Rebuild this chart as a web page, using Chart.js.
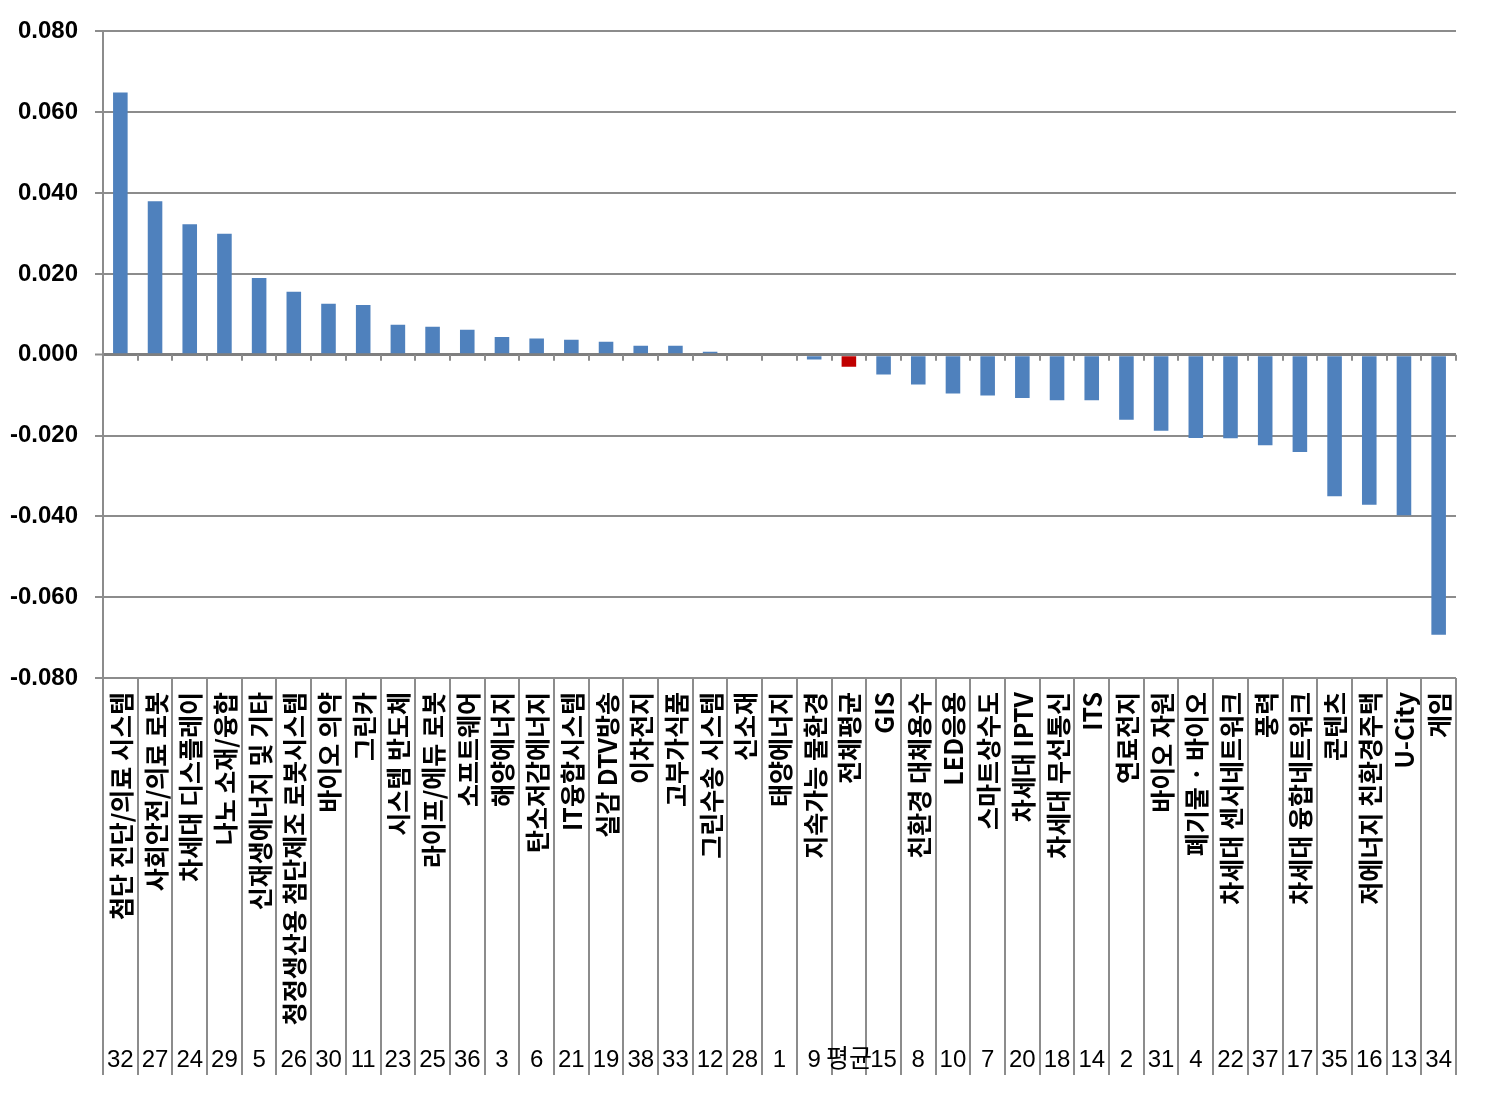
<!DOCTYPE html>
<html>
<head>
<meta charset="utf-8">
<script src="https://cdn.jsdelivr.net/npm/chart.js@4/dist/chart.umd.min.js"></script>
<style>
html,body{margin:0;padding:0;background:#fff;}
#wrap{width:1485px;height:1106px;}
</style>
</head>
<body>
<div id="wrap"><canvas id="c" width="1485" height="1106"></canvas></div>
<script>
const categories = [
  '첨단 진단/의료 시스템','사회안전/의료 로봇','차세대 디스플레이','나노 소재/융합','신재생에너지 및 기타',
  '청정생산용 첨단제조 로봇시스템','바이오 의약','그린카','시스템 반도체','라이프/에듀 로봇',
  '소프트웨어','해양에너지','탄소저감에너지','IT융합시스템','실감 DTV방송',
  '이차전지','고부가식품','그린수송 시스템','신소재','태양에너지',
  '지속가능 물환경','전체평균','GIS','친환경 대체용수','LED응용',
  '스마트상수도','차세대 IPTV','차세대 무선통신','ITS','연료전지',
  '바이오 자원','폐기물 · 바이오','차세대 센서네트워크','풍력','차세대 융합네트워크',
  '콘텐츠','저에너지 친환경주택','U-City','게임'
];
const codes = [
  '32','27','24','29','5','26','30','11','23','25','36','3','6','21','19','38','33','12','28','1',
  '9','평균','15','8','10','7','20','18','14','2','31','4','22','37','17','35','16','13','34'
];
const values = [
  0.0649, 0.0380, 0.0323, 0.0299, 0.0190, 0.0156, 0.0126, 0.0123, 0.0074, 0.0069,
  0.0062, 0.0044, 0.0040, 0.0037, 0.0032, 0.0022, 0.0022, 0.0007, 0, 0,
  -0.0012, -0.0030, -0.0049, -0.0074, -0.0096, -0.0101, -0.0107, -0.0113, -0.0113, -0.0161,
  -0.0188, -0.0206, -0.0207, -0.0224, -0.0241, -0.0350, -0.0371, -0.0397, -0.0693
];
const yTicks = [-0.08, -0.06, -0.04, -0.02, 0, 0.02, 0.04, 0.06, 0.08];

const BLUE = '#4F81BD', RED = '#C00000', GRID = '#8c8c8c';
const barColors = codes.map(c => c === '평균' ? RED : BLUE);

const labelPlugin = {
  id: 'labelArea',
  afterDraw(chart) {
    const ctx = chart.ctx, x = chart.scales.x, y = chart.scales.y, ca = chart.chartArea;
    const n = categories.length;
    const step = (x.getPixelForValue(1) - x.getPixelForValue(0));
    const zeroY = y.getPixelForValue(0);
    const bottomY = 1075;
    ctx.save();
    ctx.strokeStyle = GRID;
    ctx.lineWidth = 2;
    for (let i = 0; i <= n; i++) {
      const bx = Math.round(x.getPixelForValue(i) - step / 2);
      if (i > 0) {
        ctx.beginPath(); ctx.moveTo(bx, zeroY); ctx.lineTo(bx, zeroY + 6); ctx.stroke();
      }
      ctx.beginPath(); ctx.moveTo(bx, ca.bottom); ctx.lineTo(bx, bottomY); ctx.stroke();
    }
    ctx.fillStyle = '#000';
    ctx.font = 'bold 25px "Noto Sans CJK KR", "Liberation Sans", sans-serif';
    ctx.textAlign = 'right';
    ctx.textBaseline = 'middle';
    for (let i = 0; i < n; i++) {
      const cx = x.getPixelForValue(i);
      ctx.save();
      ctx.translate(cx + 1, ca.bottom + 14);
      ctx.rotate(-Math.PI / 2);
      ctx.fillText(categories[i], 0, 0);
      ctx.restore();
    }
    ctx.textAlign = 'center';
    ctx.textBaseline = 'alphabetic';
    for (let i = 0; i < n; i++) {
      const cx = x.getPixelForValue(i);
      ctx.font = codes[i] === '평균' ? '25px "Noto Sans CJK KR", sans-serif' : '24px "Liberation Sans", sans-serif';
      ctx.fillText(codes[i], cx, 1067);
    }
    ctx.restore();
  }
};

new Chart(document.getElementById('c'), {
  type: 'bar',
  data: {
    labels: categories,
    datasets: [{
      data: values,
      backgroundColor: barColors,
      borderWidth: 0,
      categoryPercentage: 1.0,
      barPercentage: 0.42
    }]
  },
  options: {
    responsive: false,
    animation: false,
    devicePixelRatio: 1,
    layout: { padding: { left: 0, top: 30, right: 29, bottom: 428 } },
    plugins: { legend: { display: false }, tooltip: { enabled: false } },
    scales: {
      x: { display: false },
      y: {
        min: -0.08, max: 0.08,
        afterFit(s) { s.width = 103; },
        afterBuildTicks(s) { s.ticks = yTicks.map(v => ({ value: v })); },
        border: { display: true, color: GRID, width: 2 },
        grid: {
          color: ctx => (ctx.tick && ctx.tick.value === 0) ? '#7f7f7f' : GRID,
          lineWidth: ctx => (ctx.tick && ctx.tick.value === 0) ? 3 : 2,
          tickLength: 8,
          tickColor: GRID,
          tickWidth: 2
        },
        ticks: {
          padding: 17,
          color: '#000',
          font: { family: '"Liberation Sans", Arial, sans-serif', size: 24, weight: 'bold' },
          callback: v => v.toFixed(3)
        }
      }
    }
  },
  plugins: [labelPlugin]
});
</script>
</body>
</html>
